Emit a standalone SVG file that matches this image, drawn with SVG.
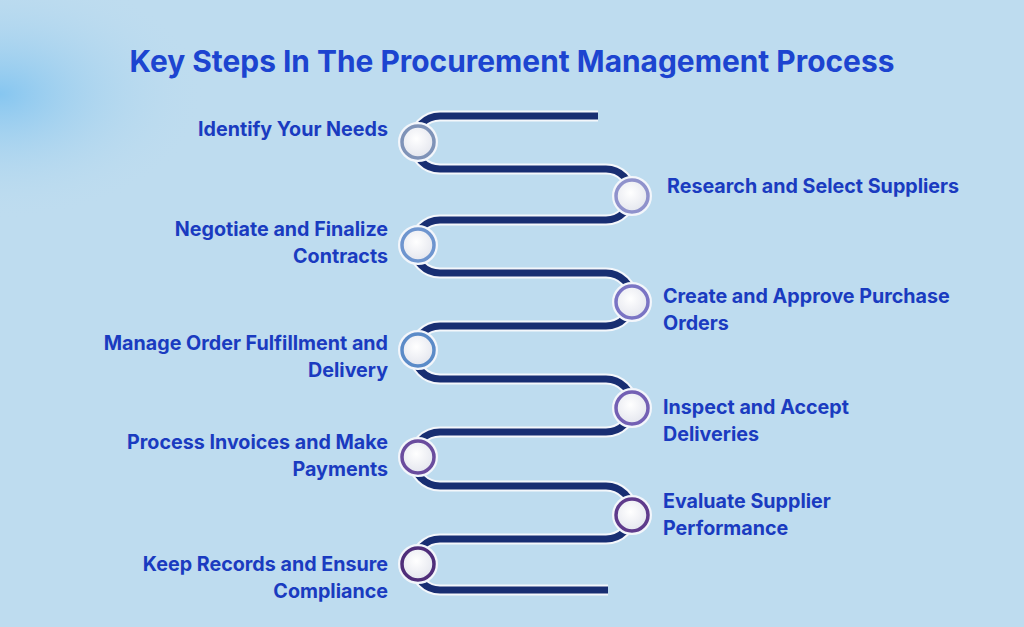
<svg xmlns="http://www.w3.org/2000/svg" width="1024" height="627" viewBox="0 0 1024 627">
<defs>
<radialGradient id="blob" cx="0" cy="0.15" r="0.2">
<stop offset="0" stop-color="#86c6f0"/><stop offset="1" stop-color="#bedcef" stop-opacity="0"/>
</radialGradient>
<radialGradient id="cf" cx="0.45" cy="0.4" r="0.6"><stop offset="0" stop-color="#ffffff"/><stop offset="1" stop-color="#e4e6ee"/></radialGradient>
<style>
.t{font-family:Inter,"Liberation Sans",sans-serif;font-weight:700;font-size:19.7px;fill:#1a3bc0}
.l{text-anchor:end}
.c{fill:url(#cf);stroke-width:3.5}
.o{fill:none;stroke:#f3f6fb;stroke-width:4}
</style>
</defs>
<rect width="1024" height="627" fill="#bedcef"/>
<rect width="1024" height="627" fill="url(#blob)"/>
<text x="512" y="72" text-anchor="middle" font-family="Inter,'Liberation Sans',sans-serif" font-weight="700" font-size="29.9" fill="#1c44d0">Key Steps In The Procurement Management Process</text>
<g id="connectors">
<path id="route" d="M598,116 H440 A26.5,26.5 0 0 0 440,169 H606 A25.5,25.5 0 0 1 606,220 H440 A26.5,26.5 0 0 0 440,273 H606 A26.5,26.5 0 0 1 606,326 H440 A26.5,26.5 0 0 0 440,379 H606 A26.5,26.5 0 0 1 606,432 H440 A27,27 0 0 0 440,486 H606 A26.5,26.5 0 0 1 606,539 H440 A25.5,25.5 0 0 0 440,590 H608" fill="none" stroke="#f4f7fb" stroke-width="11"/>
<path d="M598,116 H440 A26.5,26.5 0 0 0 440,169 H606 A25.5,25.5 0 0 1 606,220 H440 A26.5,26.5 0 0 0 440,273 H606 A26.5,26.5 0 0 1 606,326 H440 A26.5,26.5 0 0 0 440,379 H606 A26.5,26.5 0 0 1 606,432 H440 A27,27 0 0 0 440,486 H606 A26.5,26.5 0 0 1 606,539 H440 A25.5,25.5 0 0 0 440,590 H608" fill="none" stroke="#182e72" stroke-width="7"/>
</g>
<g id="n1"><circle class="o" cx="418" cy="142" r="18"/><circle class="c" cx="418" cy="142" r="16" stroke="#7f93b8"/><text class="t l" x="388" y="136">Identify Your Needs</text></g>
<g id="n2"><circle class="o" cx="632" cy="196" r="18"/><circle class="c" cx="632" cy="196" r="16" stroke="#8f92cc"/><text class="t" x="667" y="193">Research and Select Suppliers</text></g>
<g id="n3"><circle class="o" cx="418" cy="245" r="18"/><circle class="c" cx="418" cy="245" r="16" stroke="#6e95cf"/><text class="t l" x="388" y="236">Negotiate and Finalize</text><text class="t l" x="388" y="263">Contracts</text></g>
<g id="n4"><circle class="o" cx="632" cy="302" r="18"/><circle class="c" cx="632" cy="302" r="16" stroke="#7a74c4"/><text class="t" x="663" y="303">Create and Approve Purchase</text><text class="t" x="663" y="330">Orders</text></g>
<g id="n5"><circle class="o" cx="418" cy="350" r="18"/><circle class="c" cx="418" cy="350" r="16" stroke="#5b8bc8"/><text class="t l" x="388" y="350">Manage Order Fulfillment and</text><text class="t l" x="388" y="377">Delivery</text></g>
<g id="n6"><circle class="o" cx="632" cy="408" r="18"/><circle class="c" cx="632" cy="408" r="16" stroke="#7360b4"/><text class="t" x="663" y="414">Inspect and Accept</text><text class="t" x="663" y="441">Deliveries</text></g>
<g id="n7"><circle class="o" cx="418" cy="457" r="18"/><circle class="c" cx="418" cy="457" r="16" stroke="#6a4c9e"/><text class="t l" x="388" y="449">Process Invoices and Make</text><text class="t l" x="388" y="476">Payments</text></g>
<g id="n8"><circle class="o" cx="632" cy="515" r="18"/><circle class="c" cx="632" cy="515" r="16" stroke="#5f3b8c"/><text class="t" x="663" y="508">Evaluate Supplier</text><text class="t" x="663" y="535">Performance</text></g>
<g id="n9"><circle class="o" cx="418" cy="564" r="18"/><circle class="c" cx="418" cy="564" r="16" stroke="#4f2e7a"/><text class="t l" x="388" y="571">Keep Records and Ensure</text><text class="t l" x="388" y="598">Compliance</text></g>
</svg>
